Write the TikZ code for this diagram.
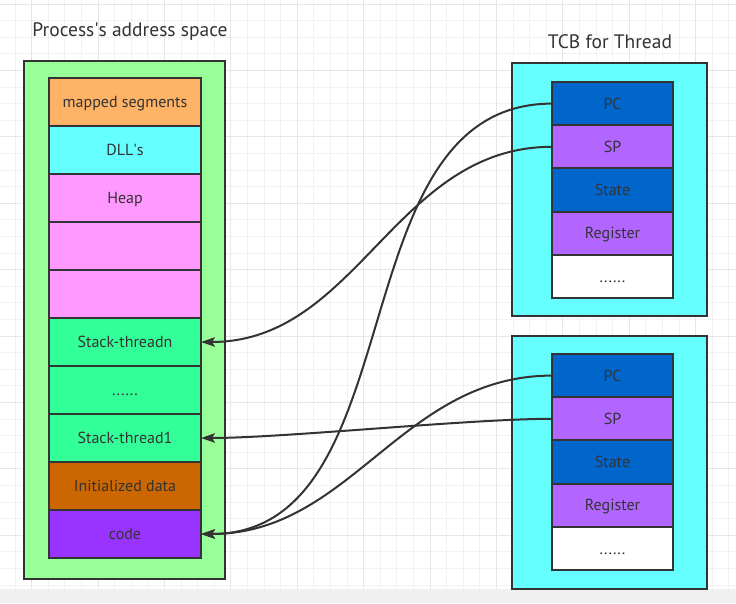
\documentclass[tikz,border=0pt]{standalone}
\usepackage{fontspec}
\setmainfont{PT Sans}
\usepackage{tikz}
\usetikzlibrary{positioning}
\usetikzlibrary{arrows.meta}

\definecolor{edge}{HTML}{333333}
\definecolor{outergreen}{HTML}{99FF99}
\definecolor{mappedc}{HTML}{FFB366}
\definecolor{dllc}{HTML}{66FFFF}
\definecolor{heapc}{HTML}{FF99FF}
\definecolor{stackc}{HTML}{33FF99}
\definecolor{datac}{HTML}{CC6600}
\definecolor{codec}{HTML}{9933FF}
\definecolor{pcc}{HTML}{0066CC}
\definecolor{spc}{HTML}{B266FF}
\definecolor{gridminor}{HTML}{F2F2F2}
\definecolor{gridmajor}{HTML}{E6E6E6}
\definecolor{barc}{HTML}{F0F0F0}

\begin{document}
\begin{tikzpicture}[x=1pt, y=-1pt, line width=2pt, node distance=0pt,
    seg/.style={draw=edge, minimum width=152pt, minimum height=48pt, inner sep=0pt, outer sep=0pt,
        font=\fontsize{16}{18}\selectfont, text=edge, text height=11.5pt, text depth=0pt},
    reg/.style={seg, minimum width=121pt, minimum height=43.2pt},
    frame/.style={draw=edge, inner sep=0pt, outer sep=0pt},
    heading/.style={font=\fontsize{19.5}{22}\selectfont, text=edge},
    link/.style={draw=edge, line width=2pt, -{Stealth[length=14pt, width=9.5pt, inset=3pt]}}]

        \useasboundingbox (0,0) rectangle (736,603);

        % background grid
        \begin{scope}[shift={(15,4)}]
            \draw[gridminor, line width=1pt, step=16.6pt] (-15,585) grid (721,-4);
        \end{scope}
        \begin{scope}[shift={(31.6,4)}]
            \draw[gridmajor, line width=1pt, step=66.4pt] (-31.6,585) grid (704,-4);
        \end{scope}
        \fill[barc] (0,589) rectangle (736,603);

        % process address space
        \node[heading] (ptitle) at (130,32) {Process\textquotesingle s address space};
        \node[frame, fill=outergreen, minimum width=201pt, minimum height=518pt] (space) at (124.5,320) {};

        \node[seg, fill=mappedc, anchor=north west] (mapped) at (49,78) {mapped segments};
        \node[seg, fill=dllc, below=of mapped] (dll) {DLL\textquotesingle s};
        \node[seg, fill=heapc, below=of dll] (heap) {Heap};
        \node[seg, fill=heapc, below=of heap] (heapa) {};
        \node[seg, fill=heapc, below=of heapa] (heapb) {};
        \node[seg, fill=stackc, below=of heapb] (stackn) {Stack-threadn};
        \node[seg, fill=stackc, below=of stackn] (stackdots) {......};
        \node[seg, fill=stackc, below=of stackdots] (stack1) {Stack-thread1};
        \node[seg, fill=datac, below=of stack1] (data) {Initialized data};
        \node[seg, fill=codec, below=of data] (code) {code};

        % TCB of thread n
        \node[heading] (ttitle) at (610,42) {TCB for Thread};
        \node[frame, fill=dllc, minimum width=195pt, minimum height=253pt] (tcba) at (609.5,189.5) {};

        \node[reg, fill=pcc, anchor=north west] (pca) at (552,82) {PC};
        \node[reg, fill=spc, below=of pca] (spa) {SP};
        \node[reg, fill=pcc, below=of spa] (statea) {State};
        \node[reg, fill=spc, below=of statea] (rega) {Register};
        \node[reg, fill=white, below=of rega] (dotsa) {......};

        % TCB of thread 1
        \node[frame, fill=dllc, minimum width=195pt, minimum height=253pt] (tcbb) at (609.5,462.5) {};

        \node[reg, fill=pcc, anchor=north west] (pcb) at (552,354) {PC};
        \node[reg, fill=spc, below=of pcb] (spb) {SP};
        \node[reg, fill=pcc, below=of spb] (stateb) {State};
        \node[reg, fill=spc, below=of stateb] (regb) {Register};
        \node[reg, fill=white, below=of regb] (dotsb) {......};

        % links
        \draw[link] (pca.west) to[out=180, in=0] (code.east);
        \draw[link] (spa.west) to[out=180, in=0] (stackn.east);
        \draw[link] (pcb.west) to[out=180, in=0] (code.east);
        \draw[link] (spb.west) to[out=180, in=0, looseness=0.6] (stack1.east);

\end{tikzpicture}
\end{document}
